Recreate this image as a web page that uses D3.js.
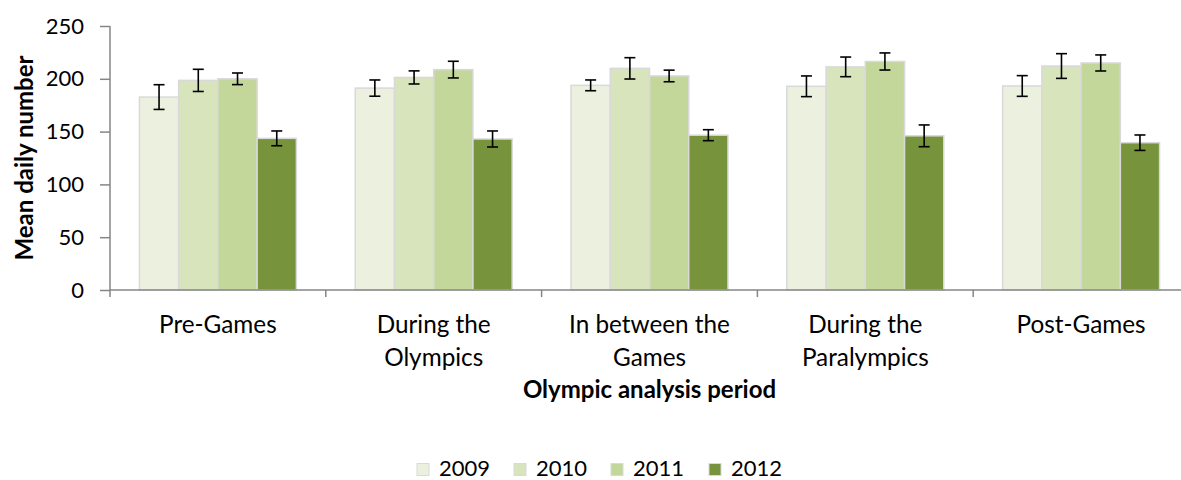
<!DOCTYPE html>
<html>
<head>
<meta charset="utf-8">
<script src="https://cdn.jsdelivr.net/npm/d3@7/dist/d3.min.js"></script>
<style>
  html, body { margin: 0; padding: 0; background: #ffffff; }
  svg { display: block; font-family: Lato, "Open Sans", sans-serif; }
</style>
</head>
<body>
<svg id="chart" width="1181" height="480"></svg>
<script>
// Olympic analysis periods (category axis)
const periods = [
  ["Pre-Games"],
  ["During the", "Olympics"],
  ["In between the", "Games"],
  ["During the", "Paralympics"],
  ["Post-Games"]
];
const years = ["2009", "2010", "2011", "2012"];

// Mean daily number per period, one array per year
const mean2009 = [182.7, 191.2, 193.8, 192.9, 193.2];
const mean2010 = [198.5, 201.3, 209.9, 211.3, 212.1];
const mean2011 = [200.0, 208.7, 202.7, 216.4, 215.0];
const mean2012 = [143.6, 143.0, 146.6, 146.0, 139.5];

// Error bar half-widths per period
const err2009 = [11.7, 7.7, 5.1, 9.8, 9.8];
const err2010 = [10.5, 6.2, 10.1, 9.3, 11.7];
const err2011 = [5.5, 7.9, 5.5, 8.1, 7.6];
const err2012 = [7.0, 7.6, 5.2, 10.3, 7.3];

const yTicks = [0, 50, 100, 150, 200, 250];

const means = [mean2009, mean2010, mean2011, mean2012];
const errs = [err2009, err2010, err2011, err2012];
const colors = ["#ebf1de", "#d8e4bc", "#c4d79b", "#77933c"];

const svg = d3.select("#chart");
const plotLeft = 110, plotRight = 1189, plotTop = 26, plotBottom = 290;

const x = d3.scaleBand()
  .domain(periods.map((p, i) => i))
  .range([plotLeft, plotRight])
  .paddingInner(0).paddingOuter(0);

// bars within a category: gap width 150% of a bar
const catW = x.bandwidth();
const barW = catW / 5.5;
const xs = d3.scaleBand()
  .domain(years)
  .range([0.75 * barW, 0.75 * barW + 4 * barW])
  .padding(0);

const y = d3.scaleLinear().domain([0, 250]).range([plotBottom, plotTop]);

const axisColor = "#868686";

// bars
years.forEach((yr, s) => {
  const g = svg.append("g").attr("class", "series-" + yr);
  g.selectAll("rect")
    .data(means[s])
    .join("rect")
    .attr("x", (d, i) => x(i) + xs(yr))
    .attr("y", d => y(d))
    .attr("width", xs.bandwidth())
    .attr("height", d => y(0) - y(d))
    .attr("fill", colors[s])
    .attr("stroke", "#d9d9d9")
    .attr("stroke-width", 1.5);
});

// error bars
years.forEach((yr, s) => {
  const g = svg.append("g").attr("class", "err-" + yr)
    .attr("stroke", "#000").attr("stroke-width", 1.6).attr("fill", "none");
  means[s].forEach((m, i) => {
    const cx = x(i) + xs(yr) + xs.bandwidth() / 2;
    const e = errs[s][i];
    g.append("line").attr("x1", cx).attr("x2", cx).attr("y1", y(m + e)).attr("y2", y(m - e));
    g.append("line").attr("x1", cx - 5.5).attr("x2", cx + 5.5).attr("y1", y(m + e)).attr("y2", y(m + e));
    g.append("line").attr("x1", cx - 5.5).attr("x2", cx + 5.5).attr("y1", y(m - e)).attr("y2", y(m - e));
  });
});

// y axis
const yAxis = d3.axisLeft(y).tickValues(yTicks).tickSize(10).tickPadding(16);
const yg = svg.append("g").attr("transform", `translate(${plotLeft},0)`).call(yAxis);
yg.select(".domain").attr("stroke", axisColor).attr("stroke-width", 1.5)
  .attr("d", `M0,${plotTop}V${plotBottom + 7}`);
yg.selectAll(".tick line").attr("stroke", axisColor).attr("stroke-width", 1.5);
yg.selectAll(".tick text")
  .attr("fill", "#000").attr("font-size", 22).attr("font-family", "Lato");

// x axis line and category boundary ticks
svg.append("line")
  .attr("x1", plotLeft).attr("x2", plotRight).attr("y1", plotBottom).attr("y2", plotBottom)
  .attr("stroke", axisColor).attr("stroke-width", 1.5);
svg.append("g").selectAll("line")
  .data(periods.map((p, i) => i).slice(1))
  .join("line")
  .attr("x1", i => x(i)).attr("x2", i => x(i))
  .attr("y1", plotBottom).attr("y2", plotBottom + 7)
  .attr("stroke", axisColor).attr("stroke-width", 1.5);

// category labels
const cat = svg.append("g").attr("font-size", 24.3).attr("text-anchor", "middle").attr("fill", "#000");
periods.forEach((lines, i) => {
  const t = cat.append("text").attr("x", x(i) + catW / 2).attr("y", 333);
  lines.forEach((ln, k) => {
    t.append("tspan").attr("x", x(i) + catW / 2).attr("y", 333 + k * 33).text(ln);
  });
});

// axis titles
svg.append("text")
  .attr("x", (plotLeft + plotRight) / 2).attr("y", 398)
  .attr("text-anchor", "middle").attr("font-weight", "bold").attr("font-size", 24)
  .text("Olympic analysis period");

svg.append("text")
  .attr("transform", `translate(33,${(plotTop + plotBottom) / 2}) rotate(-90)`)
  .attr("text-anchor", "middle").attr("font-weight", "bold").attr("font-size", 24)
  .text("Mean daily number");

// legend
const legendX = [417, 514, 611, 709];
const lg = svg.append("g");
years.forEach((yr, s) => {
  lg.append("rect")
    .attr("x", legendX[s]).attr("y", 463.5).attr("width", 12).attr("height", 12)
    .attr("fill", colors[s]).attr("stroke", "#d9d9d9").attr("stroke-width", 1);
  lg.append("text")
    .attr("x", legendX[s] + 22).attr("y", 475.5)
    .attr("font-size", 22).attr("fill", "#000")
    .text(yr);
});
</script>
</body>
</html>
